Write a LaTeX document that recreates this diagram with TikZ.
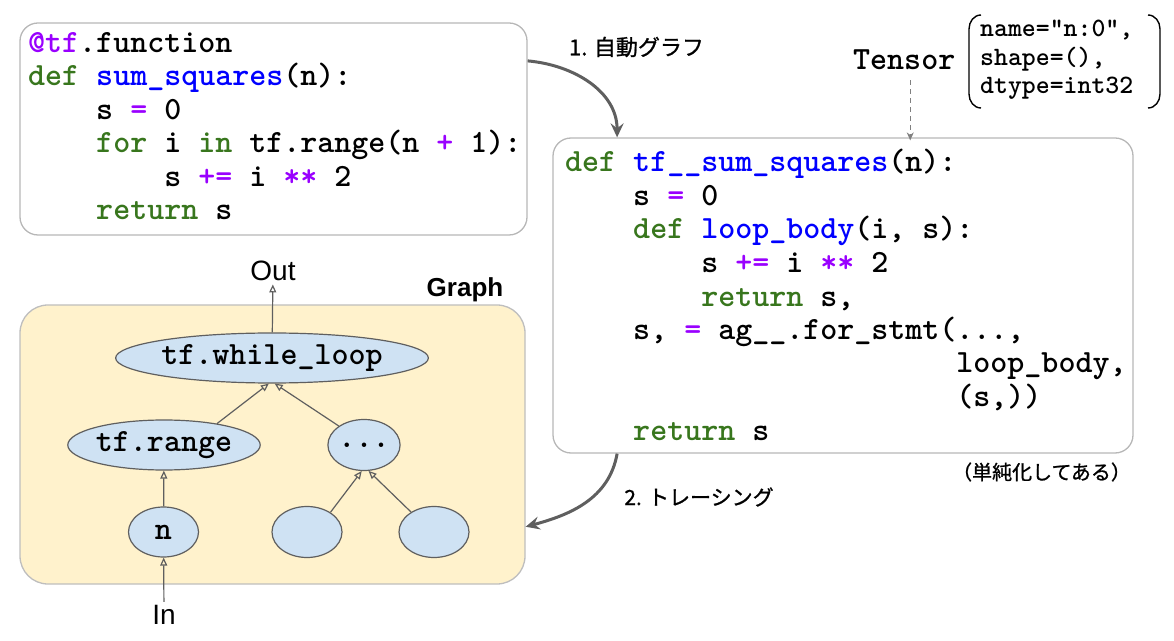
\documentclass[tikz,border=0pt]{standalone}
\usepackage{fontspec}
\setsansfont{Liberation Sans}
\newfontfamily\jpfont{Noto Sans CJK JP}[FakeBold=1]
\usetikzlibrary{arrows.meta, shapes.geometric, positioning}
\definecolor{kwgreen}{HTML}{38761D}
\definecolor{fnblue}{HTML}{0000FF}
\definecolor{opviolet}{HTML}{9900FF}
\definecolor{boxgray}{HTML}{B7B7B7}
\definecolor{arrgray}{HTML}{5F5F5F}
\definecolor{opfill}{HTML}{CFE2F3}
\definecolor{graphfill}{HTML}{FFF2CC}
\newcommand\kw[1]{\textcolor{kwgreen}{#1}}
\newcommand\fn[1]{\textcolor{fnblue}{#1}}
\newcommand\op[1]{\textcolor{opviolet}{#1}}
\newcommand\ind[1]{\hspace*{#1\fontcharwd\font`x}}

\begin{document}
\begin{tikzpicture}[x=1pt, y=1pt,
    codebox/.style={rectangle, draw=boxgray, line width=1.3pt, rounded corners=18pt},
    code/.style={inner sep=0pt, anchor=base west, align=left,
                 font=\ttfamily\bfseries\fontsize{32.4}{33.5}\selectfont},
    attr/.style={inner sep=0pt, anchor=base west, align=left,
                 font=\ttfamily\bfseries\fontsize{26.5}{28.5}\selectfont},
    op/.style={ellipse, draw=arrgray, fill=opfill, line width=1.2pt, inner sep=0pt,
               font=\ttfamily\bfseries\fontsize{32.4}{32}\selectfont},
    lbl/.style={font=\jpfont\fontsize{22}{22}\selectfont},
    bigarr/.style={draw=arrgray, line width=3pt,
                   -{Stealth[length=14pt, width=13pt, inset=5pt]}},
    garr/.style={draw=arrgray, line width=1.2pt,
                 -{Triangle[open, length=8pt, width=7pt]}},
    dasharr/.style={draw=gray, line width=1pt, dash pattern=on 5pt off 4pt,
                    -{Stealth[length=8pt, width=7pt]}},
    paren/.style={draw=black, line width=1.4pt}
  ]
  \useasboundingbox (0,0) rectangle (1174,640);

  \node[codebox, minimum width=507, minimum height=212] (srcbox) at (273.5,511) {};
  \node[codebox, minimum width=580, minimum height=315] (tfbox)  at (843,344.5) {};
  \node[codebox, fill=graphfill, draw=boxgray!90, rounded corners=28pt,
        minimum width=505, minimum height=279] (graph) at (272.5,195.5) {};

  % base of a code node = baseline of its last line
  \node[code] (src) at (28,420) {%
    \op{@tf}.function\\
    \kw{def} \fn{sum\_squares}(n):\\
    \ind{4}s \op{=} 0\\
    \ind{4}\kw{for} i \kw{in} tf.range(n \op{+} 1):\\
    \ind{8}s \op{+=} i \op{**} 2\\
    \ind{4}\kw{return} s};

  \node[code] (tfcode) at (565,200) {%
    \kw{def} \fn{tf\_\_sum\_squares}(n):\\
    \ind{4}s \op{=} 0\\
    \ind{4}\kw{def} \fn{loop\_body}(i, s):\\
    \ind{8}s \op{+=} i \op{**} 2\\
    \ind{8}\kw{return} s,\\
    \ind{4}s, \op{=} ag\_\_.for\_stmt(...,\\
    \ind{23}loop\_body,\\
    \ind{23}(s,))\\
    \ind{4}\kw{return} s};

  \node[code] (tensor) at (853,570) {Tensor};
  \node[attr] (attrs) at (980,546) {name="n:0",\\ shape=(),\\ dtype=int32};
  \draw[paren] (981,625) to[out=180,in=90] (969,611) -- (969,546) to[out=-90,in=180] (981,532);
  \draw[paren] (1148,625) to[out=0,in=90] (1160,611) -- (1160,546) to[out=-90,in=0] (1148,532);

  \node[lbl] (step1) at (636.5,593) {1. 自動グラフ};
  \node[lbl, font=\jpfont\fontsize{21}{21}\selectfont] (step2) at (699,143) {2. トレーシング};
  \node[lbl, font=\jpfont\fontsize{20}{20}\selectfont] (note) at (1041.5,168) {（単純化してある）};

  \node[font=\sffamily\bfseries\fontsize{26}{26}\selectfont] (gtitle) at (465,350) {Graph};

  % graph nodes
  \node[op, minimum width=266, minimum height=50] (while) at (272,282) {tf.while\_loop};
  \node[op, minimum width=192, minimum height=50] (range) at (164,195) {tf.range};
  \node[op, minimum width=70,  minimum height=51] (dots)  at (364,195) {...};
  \node[op, minimum width=70,  minimum height=50] (n)     at (163.5,108) {n};
  \node[op, minimum width=70,  minimum height=51] (leafa) at (307,108) {};
  \node[op, minimum width=70,  minimum height=51] (leafb) at (434,108) {};
  \node[font=\sffamily\fontsize{28}{28}\selectfont] (out) at (273,369) {Out};
  \node[font=\sffamily\fontsize{28}{28}\selectfont] (in)  at (164,25)  {In};

  \draw[garr] (while) -- (out);
  \draw[garr] (in) -- (n);
  \draw[garr] (n) -- (range);
  \draw[garr] (range.22) -- (while.263);
  \draw[garr] (dots.143) -- (while.276);
  \draw[garr] (leafa.40) -- (dots.265);
  \draw[garr] (leafb.139) -- (dots.280);

  \draw[bigarr] (srcbox.15) to[out=-5, in=90] (tfbox.145);
  \draw[bigarr] (tfbox.215) to[out=-100, in=15] (graph.-18);
  \draw[dasharr] ([xshift=6pt, yshift=-10pt]tensor.south) -- ++(0,-60);
\end{tikzpicture}
\end{document}
